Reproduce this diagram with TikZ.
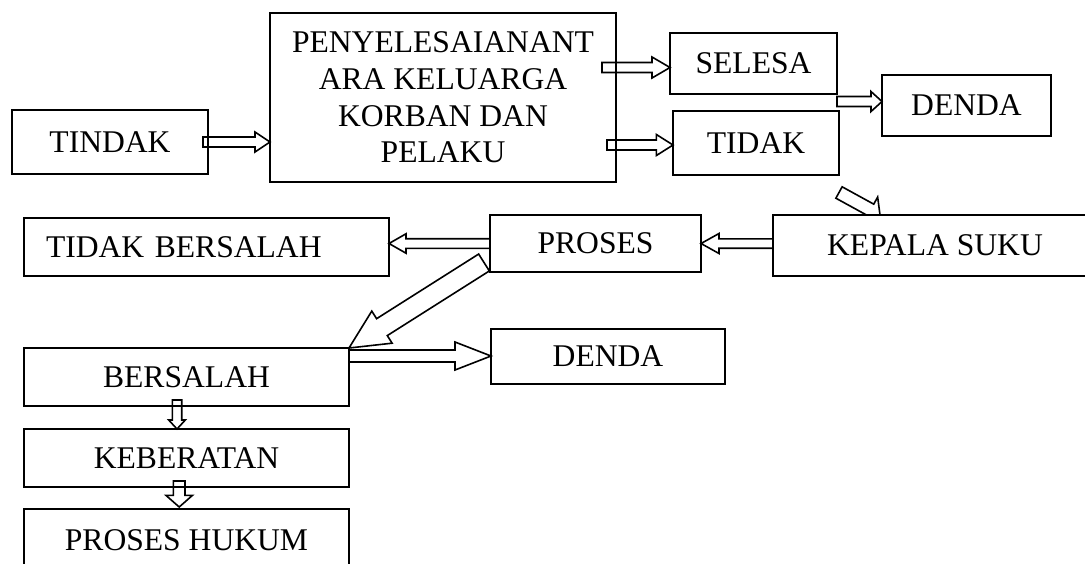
\documentclass[tikz,border=0pt]{standalone}
\usepackage{fontspec}
\setmainfont{Liberation Serif}
\usetikzlibrary{positioning,calc,backgrounds}

\tikzset{
    bshaft/.store in=\bshaft, bhead/.store in=\bhead, blen/.store in=\blen,
    bshaft=2.5pt, bhead=5pt, blen=8pt
}

\begin{document}
\begin{tikzpicture}[
    x=0.5pt, y=-0.5pt,
    box/.style={rectangle, draw, line width=1pt, fill=white, inner sep=0pt, outer sep=0pt,
        align=center, font=\fontsize{15.8}{18.3}\selectfont},
    hollow/.style={draw, line width=0.8pt, line join=miter, to path={
        let \p1=(\tikztostart), \p2=(\tikztotarget), \p3=($(\p2)!\blen!(\p1)$) in
        ($(\p1)!\bshaft!90:(\p2)$) -- ($(\p3)!\bshaft!90:(\p2)$) -- ($(\p3)!\bhead!90:(\p2)$)
        -- (\p2) -- ($(\p3)!\bhead!-90:(\p2)$) -- ($(\p3)!\bshaft!-90:(\p2)$)
        -- ($(\p1)!\bshaft!-90:(\p2)$) -- cycle}}
]
\useasboundingbox (0,0) rectangle (1085,563);
\clip (0,0) rectangle (1085,563);

% top row
\node[box, minimum width=98pt, minimum height=32pt] (tindak) at (110,142) {TINDAK};
\node[box, minimum width=173pt, minimum height=84.5pt] (penyel) at (443,97.5)
    {PENYELESAIANANT\\ARA KELUARGA\\KORBAN DAN\\PELAKU};
\node[box, minimum width=83.5pt, minimum height=30.5pt] (selesa) at (753.5,63.5) {SELESA};
\node[box, minimum width=83pt, minimum height=32pt] (tidak) at (756,143) {TIDAK};
\node[box, minimum width=84.5pt, minimum height=30.5pt] (denda) at (966.5,105.5) {DENDA};

% middle row
\node[box, text width=160.5pt, inner xsep=11pt, align=left, minimum height=29pt] (tbersalah)
    at (206.5,247) {TIDAK BERSALAH};
\node[box, minimum width=105.5pt, minimum height=28.5pt] (proses) at (595.5,243.5) {PROSES};
\node[box, minimum width=162pt, minimum height=30.5pt] (kepala) at (935,245.5) {KEPALA SUKU};

% bottom chain
\node[box, minimum width=162.5pt, minimum height=29pt] (bersalah) at (186.5,377) {BERSALAH};
\node[box, minimum width=117pt, minimum height=27.5pt] (dendab) at (608,356) {DENDA};
\node[box, minimum width=162.5pt, minimum height=29pt, below=11.5pt of bersalah] (keberatan) {KEBERATAN};
\node[box, minimum width=162.5pt, minimum height=31.5pt, below=11pt of keberatan] (hukum) {PROSES HUKUM};

% block arrows
\draw[hollow, blen=7.5pt] ([xshift=-2.5pt]tindak.east) to (tindak.east -| penyel.west);
\draw[hollow, bhead=5.25pt, blen=9pt] ([xshift=-7pt,yshift=-2pt]selesa.west -| penyel.east) to ([yshift=-2pt]selesa.west);
\draw[hollow, bhead=5.25pt, blen=8.3pt] ([xshift=-4.5pt,yshift=-1pt]tidak.west -| penyel.east) to ([yshift=-1pt]tidak.west);
\draw[hollow, blen=5.5pt] ([yshift=2pt]denda.west -| selesa.east) to ([yshift=2pt]denda.west);
\draw[hollow, bshaft=2.4pt, bhead=4.85pt, blen=8.5pt] (proses.west) to (proses.west -| tbersalah.east);
\draw[hollow, bshaft=2.35pt, blen=9pt] (kepala.west |- proses.east) to (proses.east);
\draw[hollow, bshaft=5pt, bhead=9.5pt, blen=19.5pt] ([xshift=-3pt,yshift=4.75pt]proses.south west) to (bersalah.north east);
\draw[hollow, bshaft=3pt, bhead=7pt, blen=18pt] ([yshift=-4pt]bersalah.north east) to (dendab.west);
\draw[hollow, bshaft=2.35pt, bhead=4.15pt, blen=4.5pt] ([xshift=-4.75pt,yshift=3pt]bersalah.south) to ([xshift=-4.75pt]keberatan.north);
\draw[hollow, bshaft=2.9pt, bhead=6.65pt, blen=5.85pt] ([xshift=-3.65pt,yshift=3pt]keberatan.south) to ([xshift=-3.65pt,yshift=1pt]hukum.north);

% this one runs under the box
\begin{scope}[on background layer]
\coordinate (tk) at ([yshift=-8.75pt]tidak.south east);
\draw[hollow, bshaft=3.25pt, bhead=7.3pt, blen=5.35pt] (tk) to ([xshift=53.5pt]kepala.north west);
\end{scope}
\end{tikzpicture}
\end{document}
